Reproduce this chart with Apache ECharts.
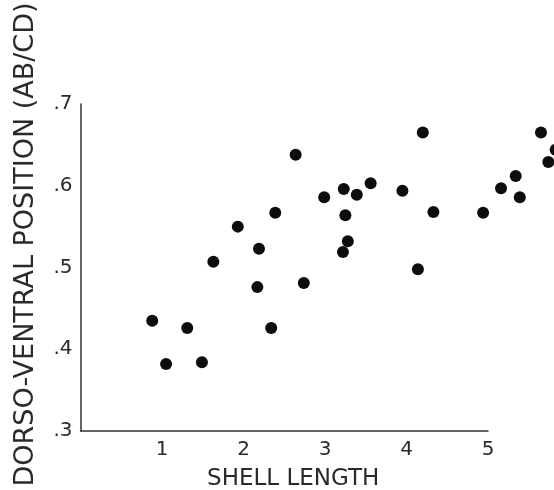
<!DOCTYPE html>
<html>
<head>
<meta charset="utf-8">
<script src="https://cdn.jsdelivr.net/npm/echarts@6/dist/echarts.min.js"></script>
<style>html,body{margin:0;padding:0;background:#fff}#c{width:554px;height:490px}</style>
</head>
<body>
<div id="c"></div>
<script>
const shellLength = [0.88,1.05,1.31,1.49,1.63,1.93,2.17,2.19,2.34,2.39,2.64,2.74,2.99,3.23,3.25,3.28,3.22,3.39,3.56,3.95,4.14,4.20,4.33,4.94,5.16,5.34,5.39,5.65,5.74,5.83];
const dvPosition = [0.435,0.382,0.426,0.384,0.507,0.550,0.476,0.523,0.426,0.567,0.638,0.481,0.586,0.596,0.564,0.532,0.519,0.589,0.603,0.594,0.498,0.665,0.568,0.567,0.597,0.612,0.586,0.665,0.629,0.644];
const xTicks = [1,2,3,4,5];
const yTicks = ['.3','.4','.5','.6','.7'];

const pts = shellLength.map((x,i)=>[x, dvPosition[i]]);
const chart = echarts.init(document.getElementById('c'));
const font = 'DejaVu Sans';
chart.setOption({
  animation:false,
  backgroundColor:'#fff',
  grid:{left:80.5,right:66,top:104,bottom:59,containLabel:false,outerBoundsMode:'none'},
  xAxis:{
    type:'value',min:0,max:5,interval:1,
    name:'SHELL LENGTH',nameLocation:'middle',nameGap:37,
    nameTextStyle:{fontFamily:font,fontSize:23,color:'#2a2a2a',padding:[0,0,0,18]},
    axisLine:{show:true,lineStyle:{color:'#333',width:1.5}},
    axisTick:{show:false},splitLine:{show:false},
    axisLabel:{fontFamily:font,fontSize:20,color:'#2a2a2a',margin:9,
      formatter:v=>xTicks.indexOf(v)>=0?String(v):''}
  },
  yAxis:{
    type:'value',min:0.3,max:0.7,interval:0.1,
    name:'DORSO-VENTRAL POSITION (AB/CD)',nameLocation:'middle',nameGap:41,
    nameTextStyle:{fontFamily:font,fontSize:27,color:'#2a2a2a',padding:[0,0,0,46]},
    axisLine:{show:true,lineStyle:{color:'#333',width:1.5}},
    axisTick:{show:false},splitLine:{show:false},
    axisLabel:{fontFamily:font,fontSize:20,color:'#2a2a2a',margin:8,
      formatter:(v)=>{const i=Math.round((v-0.3)*10);return yTicks[i]||'';}}
  },
  series:[{
    type:'scatter',data:pts,clip:false,symbolSize:12,
    itemStyle:{color:'#0d0d0d',opacity:1}
  }]
});
</script>
</body>
</html>
